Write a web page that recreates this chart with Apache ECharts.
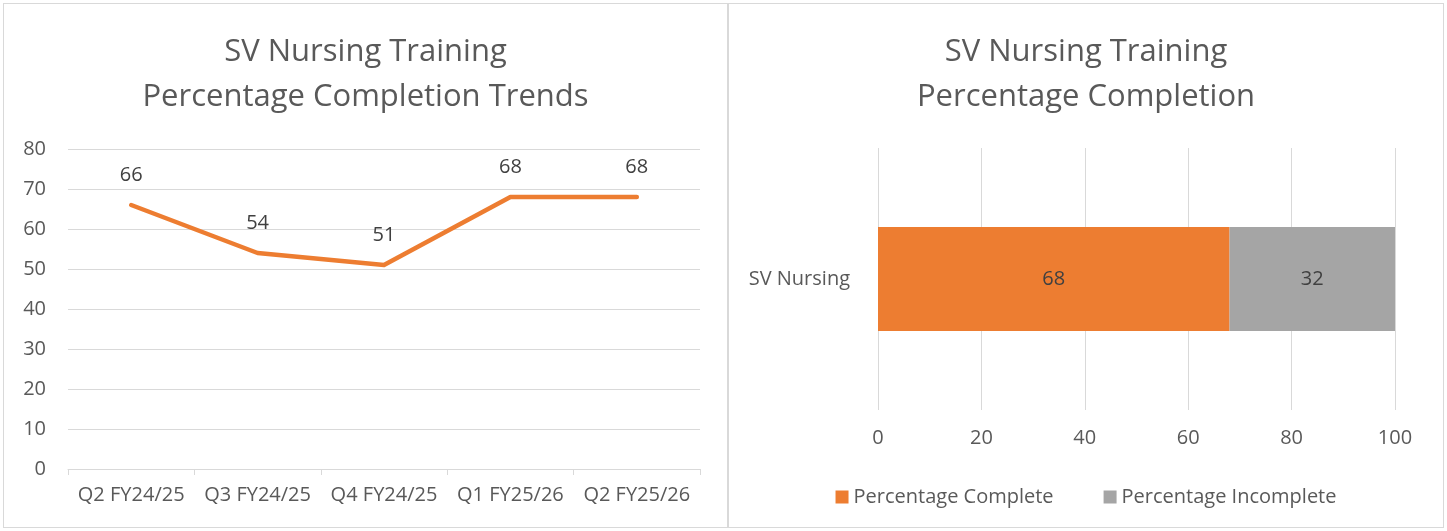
<!DOCTYPE html>
<html>
<head>
<meta charset="utf-8" />
<title>SV Nursing Training</title>
<script src="https://cdn.jsdelivr.net/npm/echarts@6/dist/echarts.min.js"></script>
<style type="text/css">
body, html {
	margin: 0;
	padding: 0;
	background: #fff;
}
.panel {
	position: absolute;
	top: 3px;
	height: 523px;
	border: 1px solid #D9D9D9;
	background: #fff;
}
#trend_chart { left: 3px; width: 723px; }
#bar_chart { left: 728px; width: 714px; }
</style>
</head>
<body>
	<div class="panel" id="trend_chart"></div>
	<div class="panel" id="bar_chart"></div>
	<script>
		// 数据
		let quarters = ['Q2 FY24/25', 'Q3 FY24/25', 'Q4 FY24/25', 'Q1 FY25/26', 'Q2 FY25/26'];
		let completionTrend = [66, 54, 51, 68, 68];
		let barCategories = ['SV Nursing'];
		let completeValues = [68];
		let incompleteValues = [32];

		let fontName = 'Open Sans';
		let textColor = '#595959';
		let gridColor = '#D9D9D9';

		let trendChart = echarts.init(document.getElementById('trend_chart'));
		trendChart.setOption({
			animation: false,
			//标题
			title: {
				text: 'SV Nursing Training\nPercentage Completion Trends',
				left: 'center',
				top: 21,
				textStyle: { fontFamily: fontName, fontSize: 31, fontWeight: 'normal', color: textColor, lineHeight: 45 }
			},
			grid: { left: 64, right: 27, top: 145, bottom: 58 },
			xAxis: {
				type: 'category',
				data: quarters,
				boundaryGap: true,
				axisLine: { lineStyle: { color: gridColor } },
				axisTick: { show: true, length: 6, interval: 0, lineStyle: { color: gridColor } },
				axisLabel: { fontFamily: fontName, fontSize: 20, color: textColor, margin: 16, interval: 0, hideOverlap: false }
			},
			yAxis: {
				type: 'value',
				min: 0,
				max: 80,
				interval: 10,
				axisLine: { show: false },
				axisTick: { show: false },
				splitLine: { lineStyle: { color: gridColor } },
				axisLabel: { fontFamily: fontName, fontSize: 20, color: textColor, margin: 22 }
			},
			series: [
				{
					name: 'Completion',
					type: 'line',
					data: completionTrend,
					symbol: 'circle',
					symbolSize: 0,
					lineStyle: { color: '#ED7D31', width: 4.5, cap: 'round', join: 'round' },
					itemStyle: { color: '#ED7D31' },
					label: {
						show: true,
						position: 'top',
						distance: 20,
						fontFamily: fontName,
						fontSize: 20,
						color: '#404040'
					}
				}
			]
		});

		let barChart = echarts.init(document.getElementById('bar_chart'));
		barChart.setOption({
			animation: false,
			title: {
				text: 'SV Nursing Training\nPercentage Completion',
				left: 'center',
				top: 21,
				textStyle: { fontFamily: fontName, fontSize: 31, fontWeight: 'normal', color: textColor, lineHeight: 45 }
			},
			legend: {
				top: 478,
				left: 'center',
				itemWidth: 13,
				itemHeight: 13,
				itemGap: 50,
				icon: 'rect',
				textStyle: { fontFamily: fontName, fontSize: 20, color: textColor },
				data: ['Percentage Complete', 'Percentage Incomplete']
			},
			grid: { left: 149, right: 48, top: 144, bottom: 117 },
			xAxis: {
				type: 'value',
				min: 0,
				max: 100,
				interval: 20,
				axisLine: { show: false },
				axisTick: { show: false },
				splitLine: { lineStyle: { color: gridColor } },
				axisLabel: { fontFamily: fontName, fontSize: 20, color: textColor, margin: 18 }
			},
			yAxis: {
				type: 'category',
				data: barCategories,
				axisLine: { show: false },
				axisTick: { show: false },
				axisLabel: { fontFamily: fontName, fontSize: 20, color: textColor, margin: 28 }
			},
			series: [
				{
					name: 'Percentage Complete',
					type: 'bar',
					stack: 'total',
					barWidth: 104,
					data: completeValues,
					itemStyle: { color: '#ED7D31' },
					label: { show: true, position: 'inside', fontFamily: fontName, fontSize: 20, color: '#404040' }
				},
				{
					name: 'Percentage Incomplete',
					type: 'bar',
					stack: 'total',
					barWidth: 104,
					data: incompleteValues,
					itemStyle: { color: '#A5A5A5' },
					label: { show: true, position: 'inside', fontFamily: fontName, fontSize: 20, color: '#404040' }
				}
			]
		});
	</script>
</body>
</html>
